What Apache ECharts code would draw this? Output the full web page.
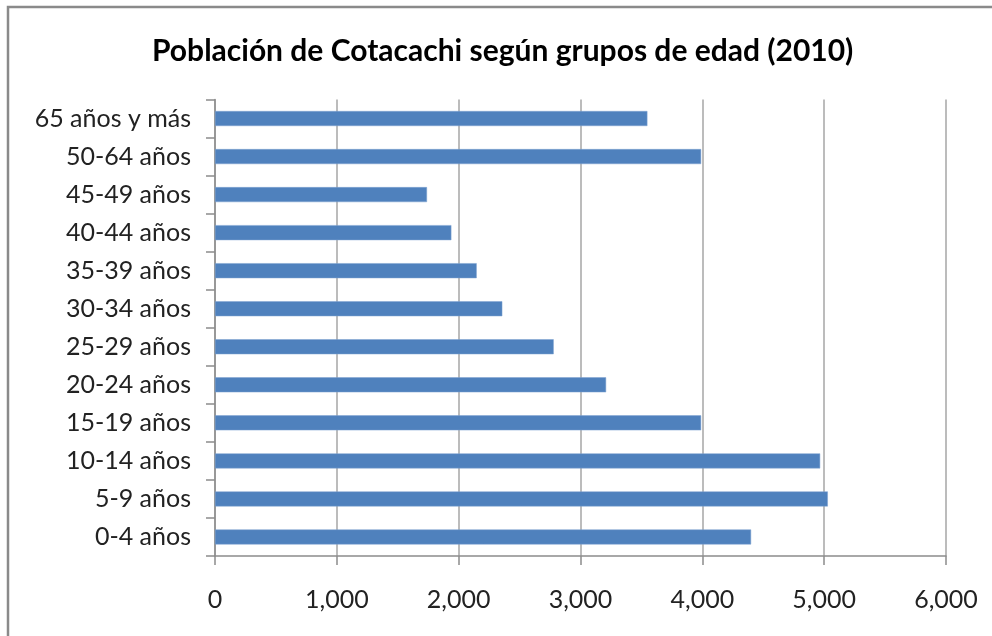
<!DOCTYPE html>
<html>
<head>
<meta charset="utf-8">
<script src="https://cdn.jsdelivr.net/npm/echarts@6/dist/echarts.min.js"></script>
<style>
html,body{margin:0;padding:0;background:#fff;}
#chart{width:992px;height:636px;}
</style>
</head>
<body>
<div id="chart"></div>
<script>
const titleText = "Población de Cotacachi según grupos de edad (2010)";
const categories = ["0-4 años","5-9 años","10-14 años","15-19 años","20-24 años","25-29 años","30-34 años","35-39 años","40-44 años","45-49 años","50-64 años","65 años y más"];
const values = [4400, 5030, 4967, 3990, 3210, 2780, 2358, 2148, 1940, 1740, 3990, 3549];
const xTicks = [0, 1000, 2000, 3000, 4000, 5000, 6000];

const chart = echarts.init(document.getElementById('chart'), null, {renderer:'canvas'});
const fontFam = "Lato, 'Open Sans', sans-serif";
chart.setOption({
  animation:false,
  backgroundColor:'#fff',
  title:{
    text:titleText,
    left:147,
    top:31,
    textStyle:{fontFamily:fontFam,fontSize:30,fontWeight:'bold',color:'#000'}
  },
  graphic:[{
    type:'rect',
    shape:{x:8,y:7,width:1100,height:800},
    style:{fill:'none',stroke:'#8a8a8a',lineWidth:2.5},
    silent:true,
    z:-1
  }],
  grid:{left:215,right:46,top:99.5,bottom:80,containLabel:false},
  xAxis:{
    type:'value',
    min:xTicks[0],
    max:xTicks[xTicks.length-1],
    interval:1000,
    axisLine:{show:true,lineStyle:{color:'#8c8c8c',width:1.5}},
    axisTick:{show:true,length:9,lineStyle:{color:'#8c8c8c',width:1.5}},
    splitLine:{show:true,lineStyle:{color:'#a6a6a6',width:1.5}},
    axisLabel:{
      fontFamily:fontFam,fontSize:25,color:'#222',margin:31,
      formatter:v=>v.toLocaleString('en-US')
    }
  },
  yAxis:{
    type:'category',
    data:categories,
    axisLine:{show:true,lineStyle:{color:'#8c8c8c',width:1.5}},
    axisTick:{show:true,length:9,lineStyle:{color:'#8c8c8c',width:1.5}},
    axisLabel:{fontFamily:fontFam,fontSize:25,color:'#222',margin:24}
  },
  series:[{
    type:'bar',
    data:values,
    barWidth:15,
    itemStyle:{color:'#4f81bd',borderColor:'#7fa3d1',borderWidth:0.5}
  }]
});
</script>
</body>
</html>
